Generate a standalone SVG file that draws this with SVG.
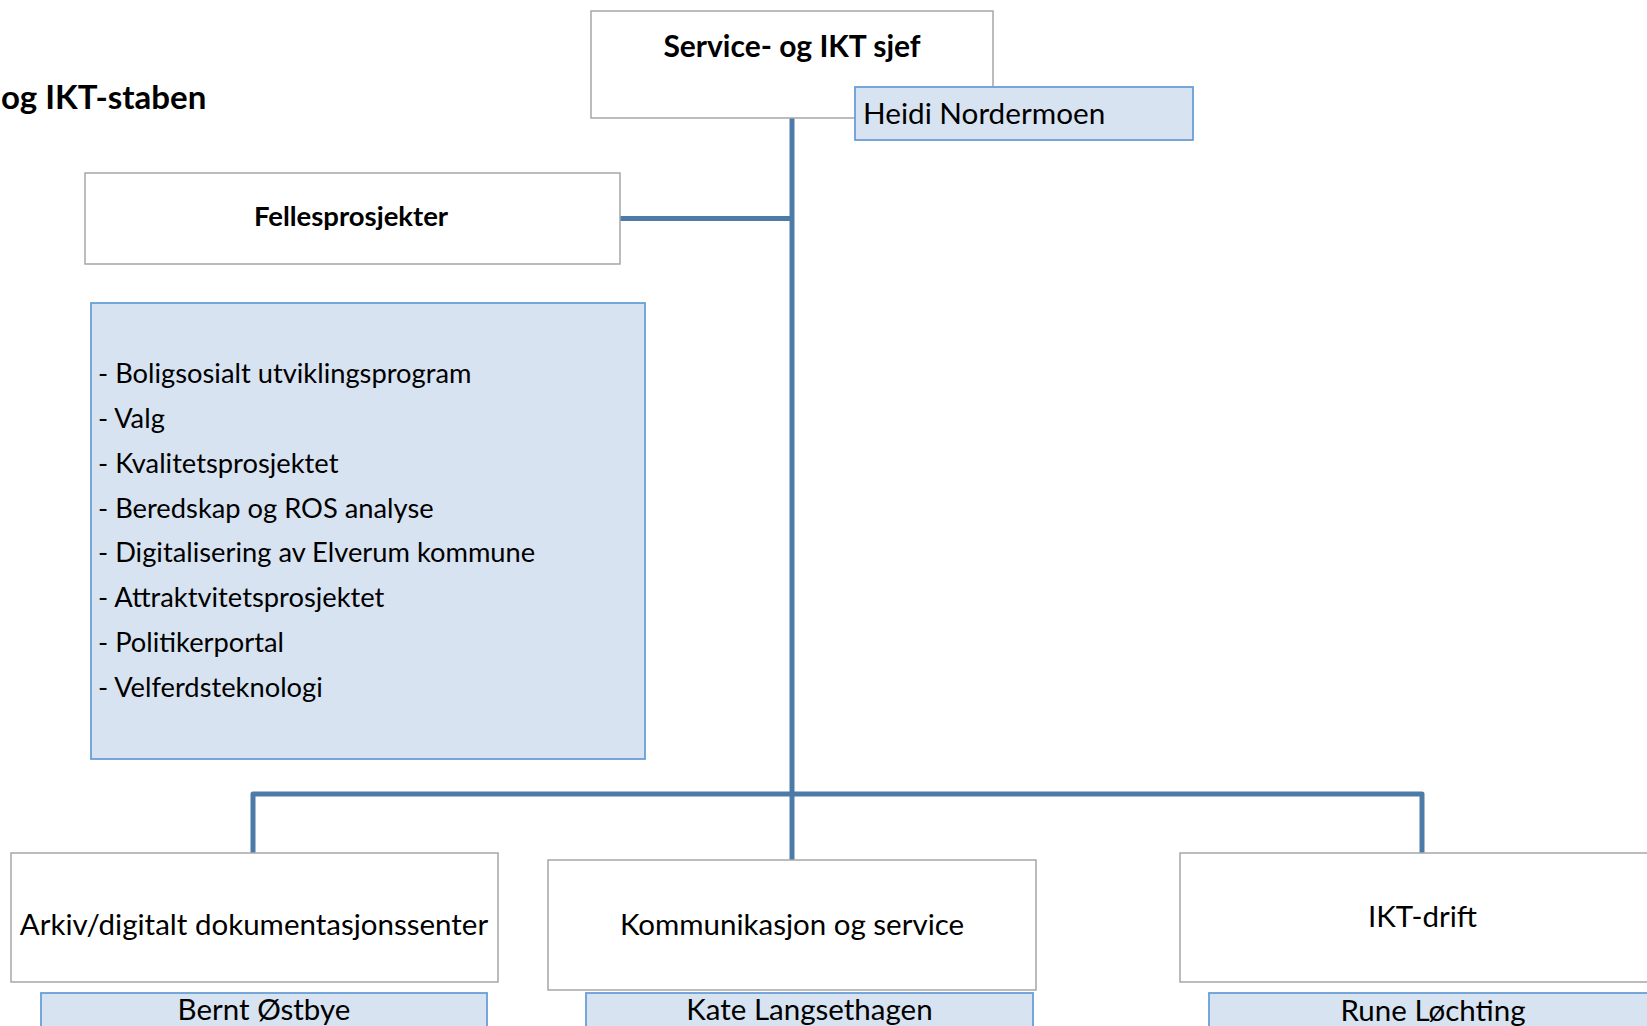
<svg xmlns="http://www.w3.org/2000/svg" width="1647" height="1026" viewBox="0 0 1647 1026">
<defs>
<style>
.box{fill:#ffffff;stroke:#a6a6a6;stroke-width:1.5}
.name{fill:#d8e3f1;stroke:#6a9ed6;stroke-width:1.8}
.conn{fill:none;stroke:#4d7ba8;stroke-width:5;stroke-linejoin:round}
text{font-family:Lato,"Open Sans","Liberation Sans",sans-serif;fill:#000}
.b{font-weight:bold}
.c{text-anchor:middle}
</style>
</defs>
<rect width="1647" height="1026" fill="#ffffff"/>
<text class="b" x="1" y="109" font-size="33">og IKT-staben</text>
<g id="connectors">
<path class="conn" d="M792 118 V794"/>
<path class="conn" d="M620 218.5 H792"/>
<path class="conn" d="M253 853 V794 H1422 V853"/>
<path class="conn" d="M792 796 V860"/>
</g>
<g id="sjef">
<rect class="box" x="591" y="11" width="402" height="107"/>
<text class="b c" x="792" y="57" font-size="30">Service- og IKT sjef</text>
</g>
<g id="heidi">
<rect class="name" x="855" y="87" width="338" height="53"/>
<text x="863" y="124" font-size="29.7">Heidi Nordermoen</text>
</g>
<g id="fellesprosjekter">
<rect class="box" x="85" y="173" width="535" height="91"/>
<text class="b c" x="351" y="226" font-size="27.5">Fellesprosjekter</text>
</g>
<g id="prosjektliste">
<rect class="name" x="91" y="303" width="554" height="456"/>
<text x="98" font-size="27.3">
<tspan x="98" y="383">- Boligsosialt utviklingsprogram</tspan>
<tspan x="98" y="428">- Valg</tspan>
<tspan x="98" y="473">- Kvalitetsprosjektet</tspan>
<tspan x="98" y="518">- Beredskap og ROS analyse</tspan>
<tspan x="98" y="562">- Digitalisering av Elverum kommune</tspan>
<tspan x="98" y="607">- Attraktvitetsprosjektet</tspan>
<tspan x="98" y="652">- Politikerportal</tspan>
<tspan x="98" y="697">- Velferdsteknologi</tspan>
</text>
</g>
<g id="arkiv">
<rect class="box" x="11" y="853" width="487" height="129"/>
<text class="c" x="254" y="935" font-size="29.5">Arkiv/digitalt dokumentasjonssenter</text>
</g>
<g id="bernt">
<rect class="name" x="41" y="993" width="446" height="45"/>
<text class="c" x="264" y="1020" font-size="29.5">Bernt Østbye</text>
</g>
<g id="kommunikasjon">
<rect class="box" x="548" y="860" width="488" height="130"/>
<text class="c" x="792" y="935" font-size="29.5">Kommunikasjon og service</text>
</g>
<g id="kate">
<rect class="name" x="586" y="993" width="447" height="45"/>
<text class="c" x="809.5" y="1020" font-size="29.5">Kate Langsethagen</text>
</g>
<g id="ikt-drift">
<rect class="box" x="1180" y="853" width="480" height="129"/>
<text class="c" x="1422.5" y="927" font-size="29.5">IKT-drift</text>
</g>
<g id="rune">
<rect class="name" x="1209" y="993" width="460" height="45"/>
<text class="c" x="1433" y="1021" font-size="29.5">Rune Løchting</text>
</g>
</svg>
